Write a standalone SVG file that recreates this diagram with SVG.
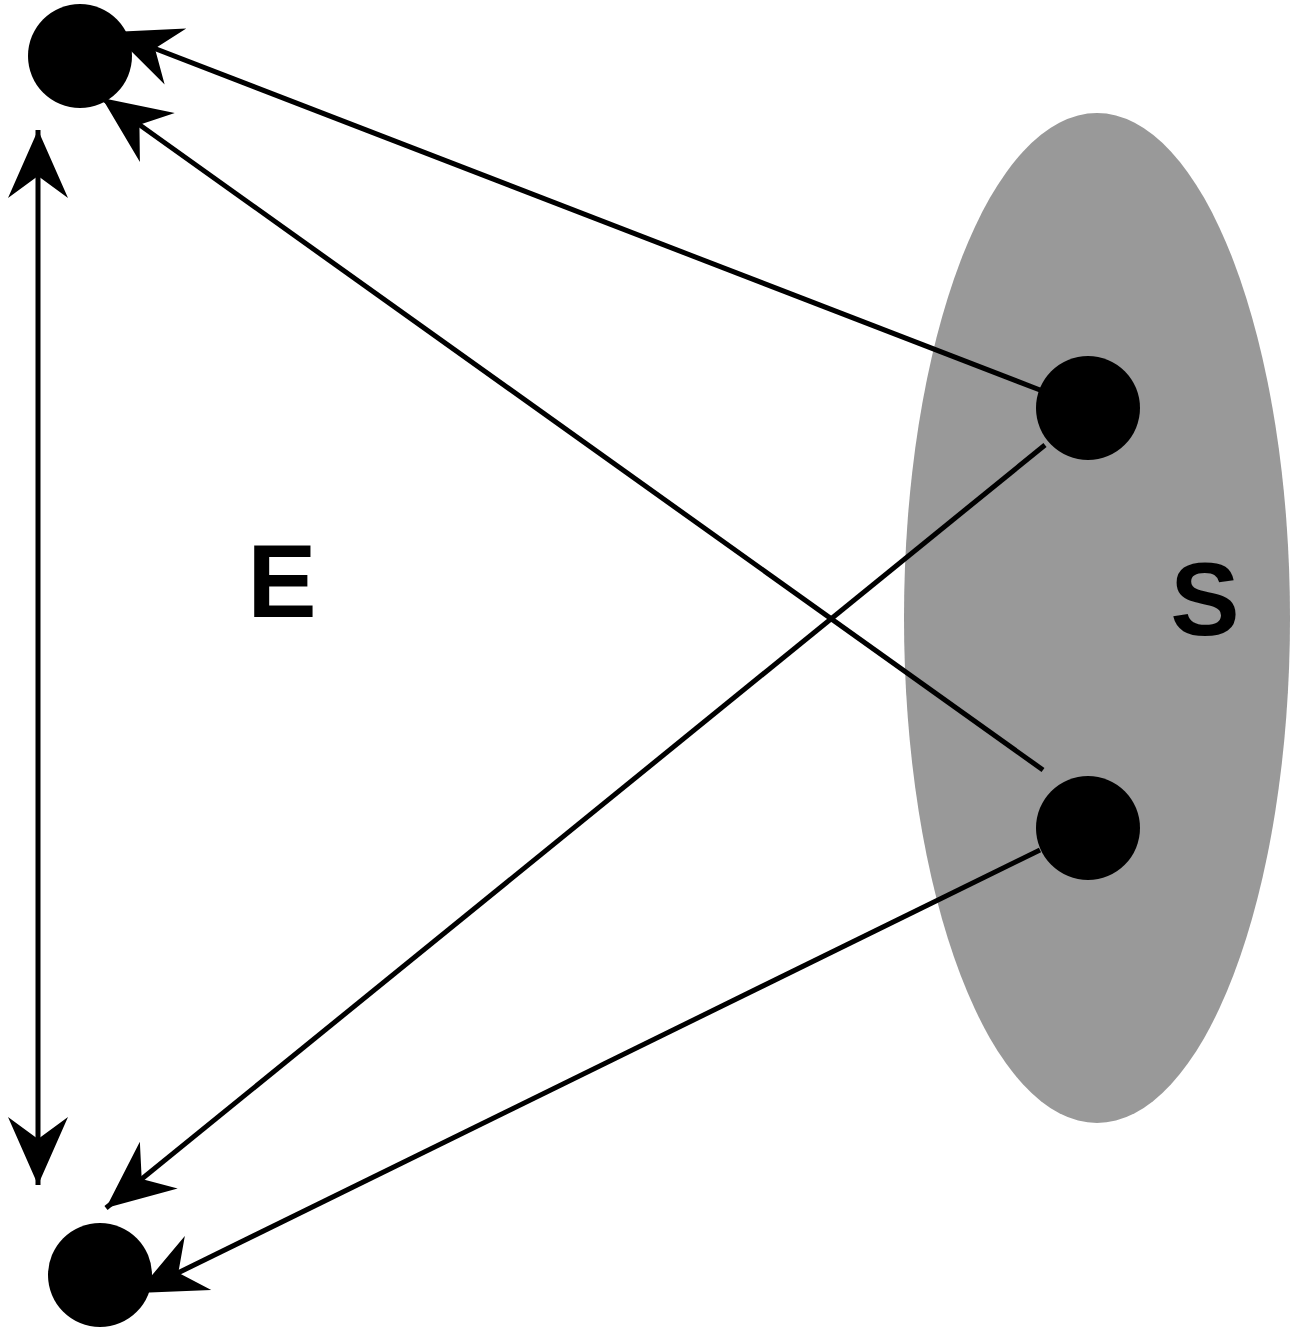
<svg xmlns="http://www.w3.org/2000/svg" width="1293" height="1333" viewBox="0 0 1293 1333">
<defs>
<marker id="ah" markerUnits="userSpaceOnUse" viewBox="-70 -35 75 70" markerWidth="75" markerHeight="70" refX="0" refY="0" orient="auto-start-reverse">
<path d="M0,0 L-68,-30 L-46,0 L-68,30 Z" fill="#000"/>
</marker>
<style>.c{stroke:#000;stroke-width:5;fill:none}.t{font-family:"Liberation Sans",Arial,sans-serif;font-weight:bold;font-size:104px;fill:#000;text-anchor:middle}</style>
</defs>
<rect width="1293" height="1333" fill="#fff"/>
<g id="S"><ellipse cx="1097" cy="618" rx="193" ry="505" fill="#999"/><text class="t" x="1205" y="635">S</text></g>
<g id="E"><text class="t" x="282" y="617">E</text></g>
<g id="connectors">
<line class="c" x1="38" y1="130" x2="38" y2="1185" marker-start="url(#ah)" marker-end="url(#ah)"/>
<line class="c" x1="1040" y1="390" x2="112" y2="32" marker-end="url(#ah)"/>
<line class="c" x1="1043" y1="770" x2="102" y2="98" marker-end="url(#ah)"/>
<line class="c" x1="1045" y1="445" x2="106" y2="1208" marker-end="url(#ah)"/>
<line class="c" x1="1040" y1="850" x2="137" y2="1293" marker-end="url(#ah)"/>
</g>
<g id="n1"><circle cx="80" cy="56" r="52"/></g>
<g id="n2"><circle cx="100" cy="1275" r="52"/></g>
<g id="n3"><circle cx="1088" cy="408" r="52"/></g>
<g id="n4"><circle cx="1088" cy="828" r="52"/></g>
</svg>
